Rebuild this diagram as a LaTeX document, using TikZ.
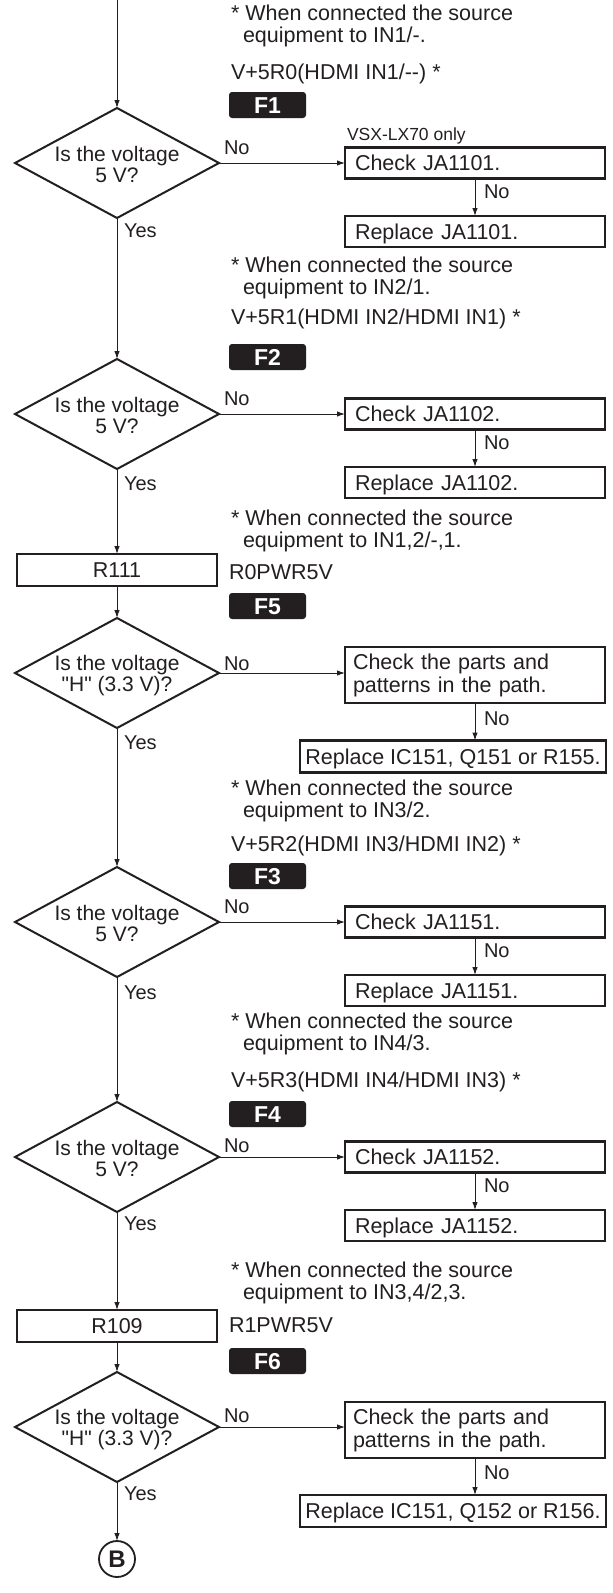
\documentclass[tikz,border=0pt]{standalone}
\usepackage{fontspec}
\setmainfont{Liberation Sans}[Ligatures=TeXOff]
\usetikzlibrary{shapes.geometric,arrows.meta}
\definecolor{ink}{RGB}{35,31,32}
\begin{document}
\begin{tikzpicture}[x=1pt,y=-1pt,
  every node/.style={inner sep=0pt, outer sep=0pt, text=ink},
  txt/.style={font=\fontsize{21.5}{22}\selectfont, anchor=base west},
  lbl/.style={font=\fontsize{20}{22}\selectfont, anchor=base west},
  smalltxt/.style={font=\fontsize{17.5}{20}\selectfont, anchor=base west},
  dia/.style={diamond, draw=ink, line width=2pt, minimum width=204pt, minimum height=110pt},
  diatext/.style={font=\fontsize{21}{21}\selectfont, align=center},
  chkbox/.style={rectangle, draw=ink, line width=2.2pt, minimum height=31pt, text width=240pt, inner xsep=10pt, align=left, anchor=west, font=\fontsize{21.5}{22}\selectfont, text height=15pt, text depth=0pt},
  chkbox2/.style={rectangle, draw=ink, line width=2.2pt, minimum height=56pt, text width=244pt, inner xsep=8pt, align=left, anchor=west, font=\fontsize{21.5}{23}\selectfont},
  widebox/.style={rectangle, draw=ink, line width=2.2pt, minimum height=32pt, minimum width=306pt, inner xsep=4pt, anchor=west, font=\fontsize{21.5}{22}\selectfont, text height=15pt, text depth=0pt},
  rbox/.style={rectangle, draw=ink, line width=2.2pt, minimum width=200pt, minimum height=32pt, font=\fontsize{21.5}{22}\selectfont, text height=15pt, text depth=0pt},
  badge/.style={rectangle, rounded corners=3pt, fill=ink, minimum width=77pt, minimum height=26pt, text=white, font=\bfseries\fontsize{23}{23}\selectfont, text height=16.5pt, text depth=0pt},
  conn/.style={draw=ink, line width=1pt, -{Latex[length=8pt,width=5.5pt]}},
  endcircle/.style={circle, draw=ink, line width=1.8pt, minimum size=36pt, font=\bfseries\fontsize{24}{24}\selectfont}
]
\fill[white] (0,0) rectangle (613,1593);
\useasboundingbox (0,0) rectangle (613,1593);

% ---------- Section 1 ----------
\coordinate (top) at (117,0);
\node[txt] (n1a) at (231,20) {* When connected the source};
\node[txt] (n1b) at (243,42) {equipment to IN1/-.};
\node[txt] (v1) at (231,79) {V+5R0(HDMI IN1/{-}{-}) *};
\node[badge] (f1) at (267.5,105) {F1};
\node[smalltxt] (vsx) at (347,140) {VSX-LX70 only};
\node[dia] (d1) at (117,163) {};
\node[diatext] (d1t) at (117,164.5) {Is the voltage\\5 V?};
\node[chkbox] (c1) at (345,163) {Check JA1101.};
\node[chkbox] (r1) at (345,231.5) {Replace JA1101.};
\node[lbl] (no1) at (224,154) {No};
\node[lbl] (no1b) at (484,198) {No};
\node[lbl] (yes1) at (124,237) {Yes};
\node[txt] (n2a) at (231,272) {* When connected the source};
\node[txt] (n2b) at (243,294) {equipment to IN2/1.};

% ---------- Section 2 ----------
\node[txt] (v2) at (231,324) {V+5R1(HDMI IN2/HDMI IN1) *};
\node[badge] (f2) at (267.5,357) {F2};
\node[dia] (d2) at (117,414) {};
\node[diatext] (d2t) at (117,415.5) {Is the voltage\\5 V?};
\node[chkbox] (c2) at (345,414) {Check JA1102.};
\node[chkbox] (r2) at (345,482.5) {Replace JA1102.};
\node[lbl] (no2) at (224,405) {No};
\node[lbl] (no2b) at (484,449) {No};
\node[lbl] (yes2) at (124,490) {Yes};
\node[txt] (n3a) at (231,525) {* When connected the source};
\node[txt] (n3b) at (243,547) {equipment to IN1,2/-,1.};

% ---------- R111 ----------
\node[rbox] (r111) at (117,570) {R111};
\node[txt] (pwr0) at (229,579) {R0PWR5V};

% ---------- Section 3 ----------
\node[badge] (f5) at (267.5,606) {F5};
\node[dia] (d3) at (117,673) {};
\node[diatext] (d3t) at (117,676) {Is the voltage\\"H" (3.3 V)?};
\node[chkbox2] (c3) at (345,675) {Check the parts and\\patterns in the path.};
\node[widebox] (r3) at (300,756.5) {Replace IC151, Q151 or R155.};
\node[lbl] (no3) at (224,670) {No};
\node[lbl] (no3b) at (484,725) {No};
\node[lbl] (yes3) at (124,749) {Yes};
\node[txt] (n4a) at (231,795) {* When connected the source};
\node[txt] (n4b) at (243,817) {equipment to IN3/2.};

% ---------- Section 4 ----------
\node[txt] (v4) at (231,851) {V+5R2(HDMI IN3/HDMI IN2) *};
\node[badge] (f3) at (267.5,876) {F3};
\node[dia] (d4) at (117,922) {};
\node[diatext] (d4t) at (117,923.5) {Is the voltage\\5 V?};
\node[chkbox] (c4) at (345,922) {Check JA1151.};
\node[chkbox] (r4) at (345,990.5) {Replace JA1151.};
\node[lbl] (no4) at (224,913) {No};
\node[lbl] (no4b) at (484,957) {No};
\node[lbl] (yes4) at (124,999) {Yes};
\node[txt] (n5a) at (231,1028) {* When connected the source};
\node[txt] (n5b) at (243,1050) {equipment to IN4/3.};

% ---------- Section 5 ----------
\node[txt] (v5) at (231,1087) {V+5R3(HDMI IN4/HDMI IN3) *};
\node[badge] (f4) at (267.5,1114) {F4};
\node[dia] (d5) at (117,1157) {};
\node[diatext] (d5t) at (117,1158.5) {Is the voltage\\5 V?};
\node[chkbox] (c5) at (345,1157) {Check JA1152.};
\node[chkbox] (r5) at (345,1225.5) {Replace JA1152.};
\node[lbl] (no5) at (224,1152) {No};
\node[lbl] (no5b) at (484,1192) {No};
\node[lbl] (yes5) at (124,1230) {Yes};
\node[txt] (n6a) at (231,1277) {* When connected the source};
\node[txt] (n6b) at (243,1299) {equipment to IN3,4/2,3.};

% ---------- R109 ----------
\node[rbox] (r109) at (117,1326) {R109};
\node[txt] (pwr1) at (229,1332) {R1PWR5V};

% ---------- Section 6 ----------
\node[badge] (f6) at (267.5,1361) {F6};
\node[dia] (d6) at (117,1427) {};
\node[diatext] (d6t) at (117,1430) {Is the voltage\\"H" (3.3 V)?};
\node[chkbox2] (c6) at (345,1430) {Check the parts and\\patterns in the path.};
\node[widebox] (r6) at (300,1511) {Replace IC151, Q152 or R156.};
\node[lbl] (no6) at (224,1422) {No};
\node[lbl] (no6b) at (484,1479) {No};
\node[lbl] (yes6) at (124,1500) {Yes};
\node[endcircle] (b) at (117,1559) {B};

% ---------- connectors ----------
\draw[conn] (top) -- (d1.north);
\draw[conn] (d1.east) -- (c1.west);
\draw[conn] (c1.south) -- (c1.south |- r1.north);
\draw[conn] (d1.south) -- (d2.north);
\draw[conn] (d2.east) -- (c2.west);
\draw[conn] (c2.south) -- (c2.south |- r2.north);
\draw[conn] (d2.south) -- (r111.north);
\draw[conn] (r111.south) -- (d3.north);
\draw[conn] (d3.east) -- (d3.east -| c3.west);
\draw[conn] (c3.south) -- (c3.south |- r3.north);
\draw[conn] (d3.south) -- (d4.north);
\draw[conn] (d4.east) -- (c4.west);
\draw[conn] (c4.south) -- (c4.south |- r4.north);
\draw[conn] (d4.south) -- (d5.north);
\draw[conn] (d5.east) -- (c5.west);
\draw[conn] (c5.south) -- (c5.south |- r5.north);
\draw[conn] (d5.south) -- (r109.north);
\draw[conn] (r109.south) -- (d6.north);
\draw[conn] (d6.east) -- (d6.east -| c6.west);
\draw[conn] (c6.south) -- (c6.south |- r6.north);
\draw[conn] (d6.south) -- (b.north);
\end{tikzpicture}
\end{document}
